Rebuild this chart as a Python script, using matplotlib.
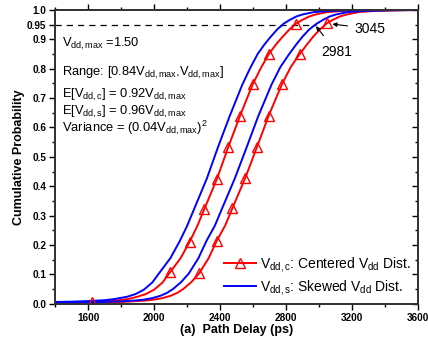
import matplotlib
matplotlib.use('Agg')
import matplotlib.pyplot as plt
from matplotlib.ticker import MultipleLocator, FixedLocator

plt.rcParams['font.family'] = ['Liberation Sans', 'DejaVu Sans']
plt.rcParams['mathtext.fontset'] = 'custom'
plt.rcParams['mathtext.rm'] = 'Liberation Sans'
plt.rcParams['mathtext.it'] = 'Liberation Sans'
plt.rcParams['mathtext.bf'] = 'Liberation Sans:bold'

# centered Vdd distribution, left and right curves
rl_x = [1400, 1500, 1600, 1700, 1750, 1800, 1850, 1900, 1950, 2000, 2050, 2096, 2160, 2215,
        2260, 2303, 2381, 2448, 2519, 2597, 2650, 2696, 2740, 2780, 2820, 2861, 2900, 2940,
        2980, 3050, 3150, 3300, 3600]
rl_y = [0.004, 0.005, 0.006, 0.008, 0.010, 0.013, 0.017, 0.024, 0.033, 0.048, 0.072, 0.107,
        0.155, 0.211, 0.263, 0.321, 0.426, 0.532, 0.638, 0.747, 0.806, 0.851, 0.884, 0.910,
        0.934, 0.954, 0.967, 0.978, 0.985, 0.993, 0.997, 0.999, 1.0]
rr_x = [1400, 1600, 1800, 1900, 1950, 2000, 2050, 2100, 2140, 2176, 2226, 2272, 2330, 2379,
        2430, 2474, 2551, 2622, 2693, 2774, 2828, 2881, 2925, 2965, 3005, 3047, 3088, 3130,
        3170, 3240, 3340, 3480, 3600]
rr_y = [0.003, 0.004, 0.006, 0.009, 0.011, 0.014, 0.019, 0.027, 0.037, 0.050, 0.074, 0.103,
        0.155, 0.214, 0.266, 0.325, 0.427, 0.532, 0.639, 0.747, 0.806, 0.849, 0.882, 0.910,
        0.934, 0.955, 0.968, 0.979, 0.985, 0.993, 0.997, 0.999, 1.0]

# triangle marker positions on the red curves
rl_mark_x = [1620, 2096, 2215, 2303, 2381, 2448, 2519, 2597, 2696, 2861]
rl_mark_y = [0.006, 0.107, 0.211, 0.321, 0.426, 0.532, 0.638, 0.747, 0.851, 0.954]
rr_mark_x = [2272, 2379, 2474, 2551, 2622, 2693, 2774, 2881, 3047]
rr_mark_y = [0.103, 0.214, 0.325, 0.427, 0.532, 0.639, 0.747, 0.849, 0.955]

# skewed Vdd distribution, left and right curves
bl_x = [1400, 1500, 1600, 1700, 1760, 1838, 1888, 1938, 1988, 2034, 2098, 2153, 2198, 2241,
        2319, 2386, 2457, 2535, 2585, 2628, 2670, 2708, 2746, 2786, 2824, 2862, 2900, 2970,
        3070, 3220, 3600]
bl_y = [0.006, 0.007, 0.009, 0.012, 0.016, 0.024, 0.033, 0.048, 0.072, 0.107, 0.155, 0.211,
        0.263, 0.321, 0.426, 0.532, 0.638, 0.747, 0.806, 0.851, 0.884, 0.910, 0.934, 0.954,
        0.967, 0.978, 0.985, 0.993, 0.997, 0.999, 1.0]
br_x = [1400, 1600, 1800, 1888, 1938, 1988, 2038, 2078, 2114, 2164, 2210, 2268, 2317, 2368,
        2412, 2489, 2560, 2631, 2712, 2765, 2817, 2860, 2900, 2940, 2981, 3022, 3064, 3104,
        3174, 3274, 3414, 3600]
br_y = [0.004, 0.005, 0.008, 0.011, 0.014, 0.019, 0.027, 0.037, 0.050, 0.074, 0.103, 0.155,
        0.214, 0.266, 0.325, 0.427, 0.532, 0.639, 0.747, 0.806, 0.849, 0.882, 0.910, 0.934,
        0.952, 0.966, 0.978, 0.985, 0.993, 0.997, 0.999, 1.0]

yticks = [0.0, 0.1, 0.2, 0.3, 0.4, 0.5, 0.6, 0.7, 0.8, 0.9, 0.95, 1.0]
ytick_labels = ['0.0', '0.1', '0.2', '0.3', '0.4', '0.5', '0.6', '0.7', '0.8', '0.9', '0.95', '1.0']

info_lines = [
    r'$V_{dd,max}$ =1.50',
    r'Range: [0.84$V_{dd,max}$,$V_{dd,max}$]',
    r'E[$V_{dd,c}$] = 0.92$V_{dd,max}$',
    r'E[$V_{dd,s}$] = 0.96$V_{dd,max}$',
    r'Variance = (0.04$V_{dd,max}$)$^2$',
]
info_y = [0.885, 0.787, 0.712, 0.652, 0.598]

fig = plt.figure(figsize=(4.28, 3.45), dpi=100)
ax = fig.add_axes([0.129, 0.1197, 0.848, 0.8513])

red = '#ff0000'
blue = '#0000ff'

ax.plot(rl_x, rl_y, color=red, lw=1.4, zorder=3)
ax.plot(rr_x, rr_y, color=red, lw=1.4, zorder=3)
ax.plot(rl_mark_x, rl_mark_y, ls='none', marker='^', ms=7, mfc='none', mec=red, mew=1.0, zorder=4)
ax.plot(rr_mark_x, rr_mark_y, ls='none', marker='^', ms=7, mfc='none', mec=red, mew=1.0, zorder=4)
ax.plot(bl_x, bl_y, color=blue, lw=1.4, zorder=3)
ax.plot(br_x, br_y, color=blue, lw=1.4, zorder=3)

# legend handles
ax.plot([], [], color=red, lw=1.4, marker='^', ms=7, mfc='none', mec=red,
        label=r'$V_{dd,c}$: Centered $V_{dd}$ Dist.')
ax.plot([], [], color=blue, lw=1.4, label=r'$V_{dd,s}$: Skewed $V_{dd}$ Dist.')
ax.legend(loc='lower right', frameon=False, fontsize=10, handlelength=2.3,
          handletextpad=0.3, labelspacing=0.3, borderaxespad=0.1,
          bbox_to_anchor=(1.0, 0.0))

# 95% line and annotations
ax.plot([1400, 2981], [0.95, 0.95], color='black', lw=0.9, ls=(0, (5, 4)), zorder=2)
ax.annotate('2981', xy=(2981, 0.945), xytext=(3010, 0.857), fontsize=10,
            ha='left', va='center',
            arrowprops=dict(arrowstyle='-|>', color='black', lw=0.8,
                            mutation_scale=6, shrinkA=6, shrinkB=0))
ax.annotate('3045', xy=(3080, 0.952), xytext=(3213, 0.937), fontsize=10,
            ha='left', va='center',
            arrowprops=dict(arrowstyle='-|>', color='black', lw=0.8,
                            mutation_scale=6, shrinkA=3, shrinkB=0))

for txt, yy in zip(info_lines, info_y):
    ax.text(0.018, yy, txt, transform=ax.transAxes, fontsize=9.3, ha='left', va='center')

ax.set_xlim(1400, 3600)
ax.set_ylim(0, 1.0)
ax.set_xticks([1600, 2000, 2400, 2800, 3200, 3600])
ax.xaxis.set_minor_locator(MultipleLocator(200))
ax.yaxis.set_major_locator(FixedLocator(yticks))
ax.set_yticklabels(ytick_labels)
ax.yaxis.set_minor_locator(MultipleLocator(0.05))

ax.tick_params(axis='both', which='major', labelsize=7.2, width=1.0, length=4.5, pad=2)
ax.tick_params(axis='both', which='minor', width=1.0, length=2.5)
ax.tick_params(axis='x', which='both', direction='out', top=True)
ax.tick_params(axis='y', which='both', direction='out', left=True, right=False)
for lbl in ax.get_xticklabels() + ax.get_yticklabels():
    lbl.set_fontweight('bold')

# right side inward ticks via twin axis
axr = ax.twinx()
axr.set_ylim(0, 1.0)
axr.yaxis.set_major_locator(MultipleLocator(0.1))
axr.yaxis.set_minor_locator(MultipleLocator(0.05))
axr.tick_params(axis='y', which='both', direction='in', labelright=False)
axr.tick_params(axis='y', which='major', length=4.5, width=1.0)
axr.tick_params(axis='y', which='minor', length=2.5, width=1.0)

for a in (ax, axr):
    for sp in a.spines.values():
        sp.set_linewidth(1.3)
        sp.set_color('#333333')

ax.set_ylabel('Cumulative Probability', fontsize=9, fontweight='bold', labelpad=1.5)
ax.set_xlabel('(a)  Path Delay (ps)', fontsize=9, fontweight='bold', labelpad=1)

fig.savefig('out.png', dpi=100)
